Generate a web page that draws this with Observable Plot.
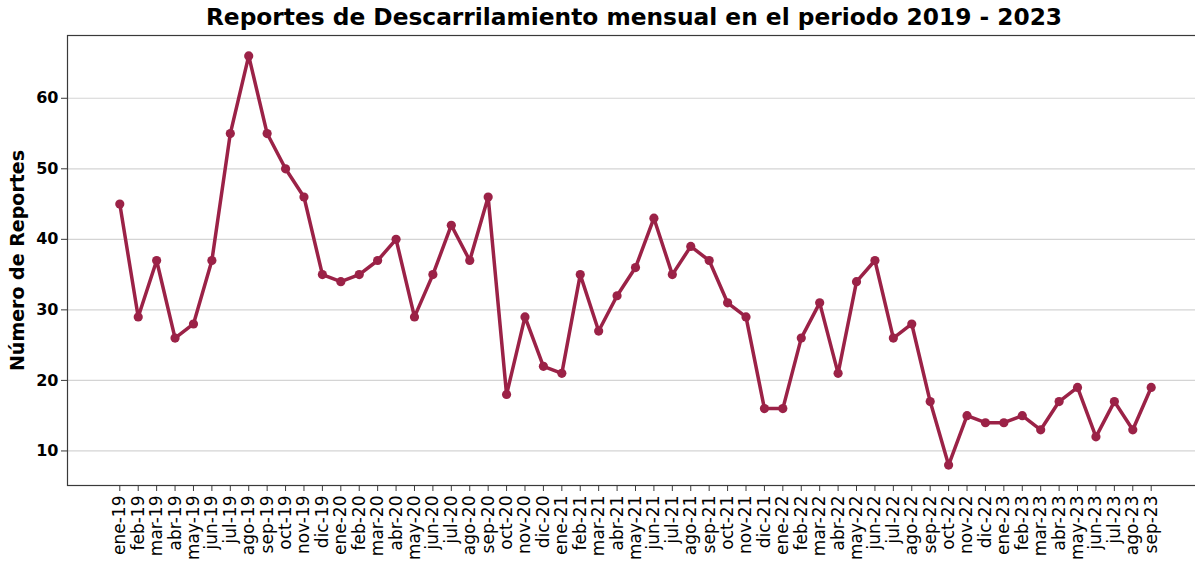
<!DOCTYPE html>
<html>
<head>
<meta charset="utf-8">
<script src="https://cdn.jsdelivr.net/npm/d3@7"></script>
<script src="https://cdn.jsdelivr.net/npm/@observablehq/plot@0.6"></script>
<style>
  html, body { margin: 0; padding: 0; background: #fff; overflow: hidden; }
  #wrap { position: relative; width: 1195px; height: 561px; }
  #title { position: relative; height: 34px; }
  #title span { position: absolute; left: 634px; top: 3px; transform: translateX(-50%); white-space: nowrap;
    font-family: "DejaVu Sans", sans-serif; font-weight: bold; font-size: 23.3px; color: #000; }
</style>
</head>
<body>
<div id="wrap">
  <div id="title"><span>Reportes de Descarrilamiento mensual en el periodo 2019 - 2023</span></div>
  <div id="chart"></div>
</div>
<script>
const months = [
  "ene-19","feb-19","mar-19","abr-19","may-19","jun-19","jul-19","ago-19","sep-19","oct-19","nov-19","dic-19",
  "ene-20","feb-20","mar-20","abr-20","may-20","jun-20","jul-20","ago-20","sep-20","oct-20","nov-20","dic-20",
  "ene-21","feb-21","mar-21","abr-21","may-21","jun-21","jul-21","ago-21","sep-21","oct-21","nov-21","dic-21",
  "ene-22","feb-22","mar-22","abr-22","may-22","jun-22","jul-22","ago-22","sep-22","oct-22","nov-22","dic-22",
  "ene-23","feb-23","mar-23","abr-23","may-23","jun-23","jul-23","ago-23","sep-23"
];
const reportes = [
  45, 29, 37, 26, 28, 37, 55, 66, 55, 50, 46, 35,
  34, 35, 37, 40, 29, 35, 42, 37, 46, 18, 29, 22,
  21, 35, 27, 32, 36, 43, 35, 39, 37, 31, 29, 16,
  16, 26, 31, 21, 34, 37, 26, 28, 17, 8, 15, 14,
  14, 15, 13, 17, 19, 12, 17, 13, 19
];
const yTicks = [10, 20, 30, 40, 50, 60];
const yLabel = "Número de Reportes";
const color = "#9B2247";

const data = months.map((m, i) => ({ month: m, value: reportes[i] }));

const plot = Plot.plot({
  width: 1195,
  height: 527,
  marginTop: 1,
  marginBottom: 76,
  marginLeft: 67,
  marginRight: -7,
  style: { background: "#fff", color: "#000" },
  x: { type: "point", domain: months, range: [119.3, 1150.7], padding: 0, round: false, label: null },
  y: { domain: [5.1, 68.9], label: null },
  marks: [
    Plot.gridY(yTicks, { stroke: "#d4d4d4", strokeOpacity: 1, strokeWidth: 1.2 }),
    Plot.frame({ stroke: "#3a3a3a", strokeWidth: 1.2 }),
    Plot.axisY(yTicks, {
      tickSize: 6, tickPadding: 3, fontSize: 16, fontWeight: "bold",
      fontFamily: "DejaVu Sans", label: null, stroke: "#3a3a3a"
    }),
    Plot.axisX({
      tickRotate: -90, tickSize: 6, tickPadding: 4, fontSize: 17,
      fontFamily: "DejaVu Sans", label: null, stroke: "#3a3a3a"
    }),
    Plot.line(data, { x: "month", y: "value", stroke: color, strokeWidth: 3.5, strokeLinejoin: "round" }),
    Plot.dot(data, { x: "month", y: "value", fill: color, r: 4.6 }),
    Plot.text([yLabel], {
      frameAnchor: "left", dx: -50, rotate: -90, text: d => d, textAnchor: "middle",
      fontSize: 19, fontWeight: "bold", fontFamily: "DejaVu Sans", fill: "#000"
    })
  ]
});
document.getElementById("chart").appendChild(plot);
</script>
</body>
</html>
